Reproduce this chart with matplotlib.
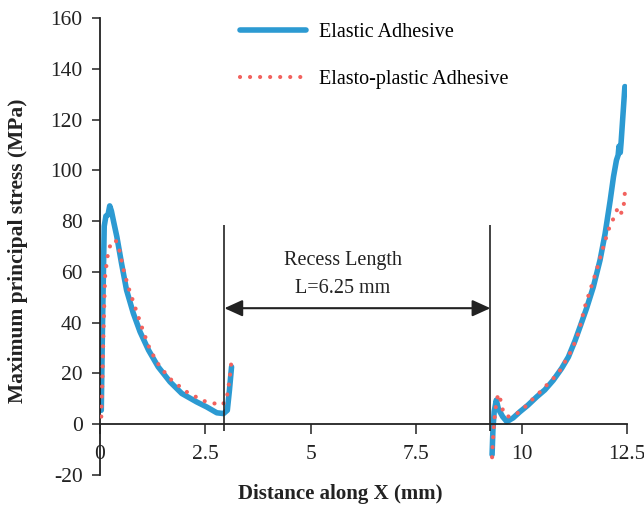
import numpy as np
import matplotlib
matplotlib.use("Agg")
import matplotlib.pyplot as plt

plt.rcParams['font.family'] = ['Liberation Serif', 'DejaVu Serif']
plt.rcParams['axes.unicode_minus'] = False

# Elastic adhesive - left of recess
el_left_x = [0.03, 0.06, 0.10, 0.14, 0.19, 0.23, 0.27, 0.32, 0.40, 0.51, 0.63, 0.79, 0.95,
             1.15, 1.38, 1.66, 1.94, 2.29, 2.53, 2.77, 2.93, 3.02, 3.07, 3.12]
el_left_y = [5.5, 40, 78, 82, 82.5, 86, 84, 80, 73.8, 63.4, 52.8, 43.7, 36.4,
             29.2, 22.6, 16.7, 12.1, 8.8, 6.8, 4.5, 4.2, 5.5, 13.4, 22.6]
# Elastic adhesive - right of recess
el_right_x = [9.30, 9.32, 9.35, 9.40, 9.45, 9.55, 9.65, 9.80, 9.96, 10.15, 10.36, 10.55,
              10.75, 10.95, 11.11, 11.27, 11.40, 11.54, 11.70, 11.86, 11.98, 12.10, 12.18,
              12.25, 12.29, 12.31, 12.34, 12.36, 12.45]
el_right_y = [-12, -2, 5, 9.5, 6, 3, 1, 2.5, 4.9, 7.5, 10.8, 13.5,
              17.3, 22, 26.5, 33, 39, 45.6, 54, 64.6, 75, 88, 97.5,
              104, 106, 109.5, 107, 111, 133]

# Elasto-plastic adhesive - left of recess
ep_left_x = [0.03, 0.06, 0.08, 0.12, 0.17, 0.21, 0.28, 0.38, 0.46, 0.55, 0.67, 0.83,
             1.03, 1.19, 1.42, 1.70, 2.06, 2.45, 2.89, 3.00, 3.07, 3.12]
ep_left_y = [3, 20, 35.7, 58, 65.3, 68.8, 72.2, 72.1, 68.6, 61.3, 54.1, 46.2,
             36.4, 29.2, 22.6, 17.3, 12.7, 9.2, 7.5, 9.5, 17.3, 25.2]
# Elasto-plastic adhesive - right of recess
ep_right_x = [9.30, 9.33, 9.38, 9.43, 9.47, 9.53, 9.60, 9.70, 9.85, 10.0, 10.16, 10.30,
              10.44, 10.63, 10.87, 11.03, 11.20, 11.35, 11.50, 11.64, 11.78, 11.90, 12.03,
              12.10, 12.20, 12.28, 12.33, 12.41, 12.43, 12.45]
ep_right_y = [-13, -3, 6, 10.8, 12, 6.8, 3.5, 3, 3.8, 5.5, 8.1, 10.5,
              12.7, 16, 20, 24.6, 29.5, 36, 46.2, 53.5, 60.7, 67.7, 74.9,
              78.4, 81.7, 85.2, 83, 83.7, 87.6, 91.3]

xticks = [0, 2.5, 5, 7.5, 10, 12.5]
xticklabels = ["0", "2.5", "5", "7.5", "10", "12.5"]
yticks = [-20, 0, 20, 40, 60, 80, 100, 120, 140, 160]

recess_start = 2.95
recess_end = 9.26

blue = "#2C9AD2"
red = "#F2625E"

fig = plt.figure(figsize=(6.44, 5.12), dpi=100)
ax = fig.add_axes([0.1553, 0.0723, 0.8183, 0.8925])

ax.plot(el_left_x, el_left_y, color=blue, lw=4.0, solid_capstyle='round',
        solid_joinstyle='round', label="Elastic Adhesive", zorder=2)
ax.plot(el_right_x, el_right_y, color=blue, lw=4.0, solid_capstyle='round',
        solid_joinstyle='round', zorder=2)
dots = (0, (0.01, 2.4))
ax.plot(ep_left_x, ep_left_y, color=red, lw=3.0, linestyle=dots, dash_capstyle='round',
        label="Elasto-plastic Adhesive", zorder=3)
ax.plot(ep_right_x, ep_right_y, color=red, lw=3.0, linestyle=dots, dash_capstyle='round',
        zorder=3)

# recess markers
ax.vlines([recess_start, recess_end], -2.5, 78.5, color="#222222", lw=1.2, zorder=4)
ax.annotate("", xy=(recess_start, 45.7), xytext=(recess_end, 45.7),
            arrowprops=dict(arrowstyle="<|-|>,head_length=0.55,head_width=0.25",
                            color="#222222", lw=1.5, shrinkA=0, shrinkB=0,
                            mutation_scale=20))
ax.text(5.76, 64.6, "Recess Length", ha='center', va='center', fontsize=14.5, color="#222222")
ax.text(5.76, 53.6, "L=6.25 mm", ha='center', va='center', fontsize=14.5, color="#222222")

ax.set_xlim(0, 12.5)
ax.set_ylim(-20, 160)
ax.spines['top'].set_visible(False)
ax.spines['right'].set_visible(False)
ax.spines['bottom'].set_position(('data', 0))
for s in ['left', 'bottom']:
    ax.spines[s].set_linewidth(1.3)
    ax.spines[s].set_color("#222222")

ax.set_xticks(xticks)
ax.set_xticklabels(xticklabels)
ax.set_yticks(yticks)
ax.tick_params(axis='x', direction='out', length=7, width=1.1, pad=8, labelsize=15.5, colors="#222222")
ax.tick_params(axis='y', direction='out', length=6, width=1.1, pad=6.5, labelsize=15.5, colors="#222222")

ax.set_xlabel("Distance along X (mm)", fontsize=15, fontweight='bold', color="#222222")
ax.xaxis.set_label_coords(0.455, -0.02)
ax.set_ylabel("Maximum principal stress (MPa)", fontsize=15.5, fontweight='bold', color="#222222")
ax.yaxis.set_label_coords(-0.137, 0.49)

leg = ax.legend(loc='upper left', bbox_to_anchor=(0.2657, 0.99), frameon=False,
                fontsize=14.5, handlelength=3.3, handletextpad=0.6, labelspacing=1.4,
                borderpad=0, borderaxespad=0)

fig.savefig("out.png", dpi=100)
